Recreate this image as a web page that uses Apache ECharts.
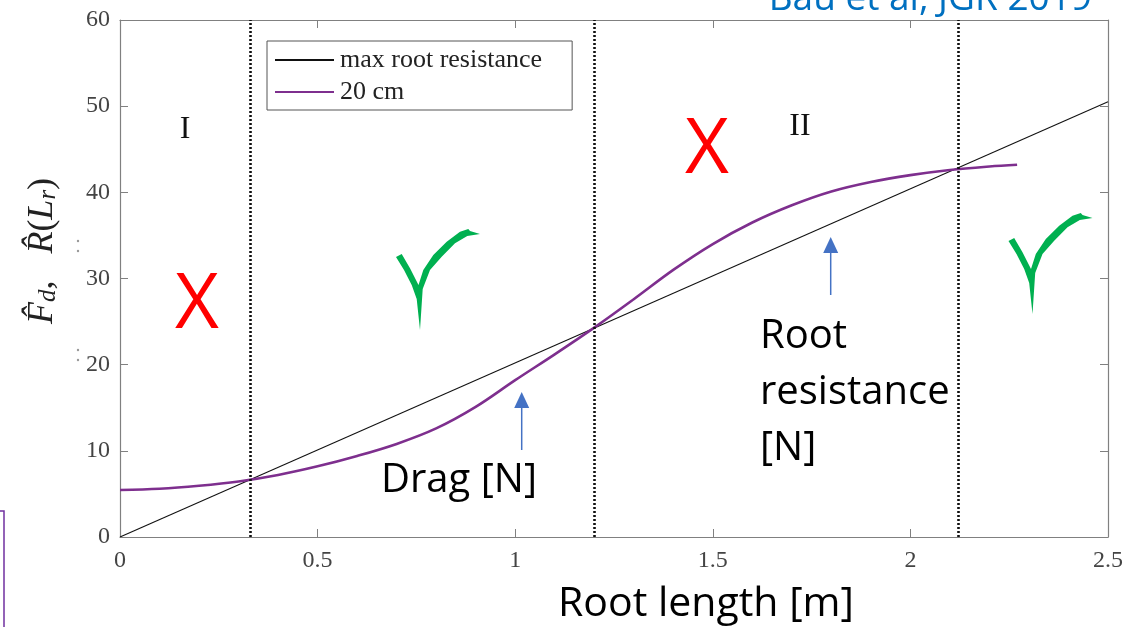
<!DOCTYPE html>
<html>
<head>
<meta charset="utf-8">
<script src="https://cdn.jsdelivr.net/npm/echarts@6/dist/echarts.min.js"></script>
<style>
  html, body { margin: 0; padding: 0; background: #fff; }
  #chart { width: 1145px; height: 627px; }
</style>
</head>
<body>
<div id="chart"></div>
<script>
// Root length [m] sampled along the drag curve
const rootLength = [0, 0.1, 0.2, 0.3, 0.4, 0.5, 0.6, 0.7, 0.8, 0.9, 1.0, 1.1, 1.2,
  1.3, 1.4, 1.5, 1.6, 1.7, 1.8, 1.9, 2.0, 2.1, 2.2, 2.27];
// Drag force for the 20 cm case [N]
const dragValues = [5.45, 5.6, 5.95, 6.45, 7.2, 8.2, 9.4, 10.8, 12.6, 15.1, 18.2, 21.2, 24.3,
  27.6, 31.0, 34.0, 36.5, 38.5, 40.1, 41.2, 42.0, 42.6, 43.0, 43.2];
// Maximum root resistance: straight line from origin
const resistanceLength = [0, 2.5];
const resistanceValues = [0, 50.5];
// Regime boundaries (where drag equals resistance)
const boundaries = [0.334, 1.203, 2.12];
// Axis ranges
const xRange = [0, 2.5, 0.5];
const yRange = [0, 60, 10];
const seriesNames = ['max root resistance', '20 cm'];

const serif = '"Liberation Serif", "DejaVu Serif", serif';
const sans = '"Open Sans", "Noto Sans", sans-serif';
const axisGray = '#808080';

function pairs(xs, ys) { return xs.map((x, i) => [x, ys[i]]); }

// hand-drawn check mark outline, relative to its own corner
const checkShape = [[16, 37], [24, 50], [31.7, 65], [36.7, 79], [40, 110], [42.7, 69], [50, 50],
  [61.7, 36.7], [75, 23.3], [87.3, 16], [100, 14], [90, 11], [88.3, 9], [80, 11.7], [66.7, 21.7],
  [53.3, 35], [43.3, 50], [38.5, 65], [30, 48.3], [21.7, 34]];
function check(ox, oy) {
  return { type: 'polygon', shape: { points: checkShape.map(p => [ox + p[0], oy + p[1]]) },
    style: { fill: '#00B050' }, z: 20 };
}
function arrow(x, yTail, yTip) {
  return [
    { type: 'line', shape: { x1: x, y1: yTail, x2: x, y2: yTip + 12 },
      style: { stroke: '#4472C4', lineWidth: 1.5 }, z: 20 },
    { type: 'polygon', shape: { points: [[x - 7.5, yTip + 16], [x + 7.5, yTip + 16], [x, yTip]] },
      style: { fill: '#4472C4' }, z: 20 }
  ];
}
function label(text, x, y, font, size, color, align) {
  return { type: 'text', x: x, y: y, z: 20,
    style: { text: text, fontFamily: font, fontSize: size, fill: color,
      align: align || 'center', verticalAlign: 'middle' } };
}

const chart = echarts.init(document.getElementById('chart'), null, { renderer: 'canvas' });

const xBase = { type: 'value', min: xRange[0], max: xRange[1], interval: xRange[2],
  splitLine: { show: false },
  axisLine: { show: true, onZero: false, lineStyle: { color: axisGray, width: 1.2 } },
  axisTick: { show: true, inside: true, length: 8, lineStyle: { color: axisGray } } };
const yBase = { type: 'value', min: yRange[0], max: yRange[1], interval: yRange[2],
  splitLine: { show: false },
  axisLine: { show: true, onZero: false, lineStyle: { color: axisGray, width: 1.2 } },
  axisTick: { show: true, inside: true, length: 8, lineStyle: { color: axisGray } } };

chart.setOption({
  animation: false,
  backgroundColor: '#fff',
  grid: { left: 120, right: 37, top: 20, bottom: 90, containLabel: false },
  xAxis: [
    Object.assign({}, xBase, { position: 'bottom',
      axisLabel: { margin: 12, fontFamily: serif, fontSize: 24, color: '#444' } }),
    Object.assign({}, xBase, { position: 'top', axisLabel: { show: false } })
  ],
  yAxis: [
    Object.assign({}, yBase, { position: 'left',
      axisLabel: { margin: 10, fontFamily: serif, fontSize: 24, color: '#444' } }),
    Object.assign({}, yBase, { position: 'right', axisLabel: { show: false } })
  ],
  legend: {
    data: seriesNames,
    orient: 'vertical',
    left: 267, top: 41,
    padding: [6, 30, 5, 7],
    itemGap: 6,
    itemWidth: 59, itemHeight: 14,
    itemStyle: { opacity: 0 },
    borderColor: '#555', borderWidth: 1,
    backgroundColor: '#fff',
    textStyle: { fontFamily: serif, fontSize: 26, color: '#222', padding: [0, 0, 0, 1] }
  },
  series: [
    {
      name: seriesNames[0], type: 'line', symbol: 'none',
      data: pairs(resistanceLength, resistanceValues),
      lineStyle: { color: '#111', width: 1.1 }, itemStyle: { color: '#111' }, z: 3
    },
    {
      name: seriesNames[1], type: 'line', symbol: 'none', smooth: 0.35,
      data: pairs(rootLength, dragValues),
      lineStyle: { color: '#7E2F8E', width: 2.6 }, itemStyle: { color: '#7E2F8E' }, z: 4
    },
    {
      name: 'boundaries', type: 'line', data: [], symbol: 'none',
      markLine: {
        silent: true, symbol: ['none', 'none'], label: { show: false },
        lineStyle: { color: '#111', type: [2, 2], width: 2.6 },
        data: boundaries.map(b => ({ xAxis: b }))
      }, z: 2
    }
  ],
  graphic: [
    // regime labels
    label('I', 185, 130, serif, 32, '#111'),
    label('II', 800, 127, serif, 32, '#111'),
    // rejected regimes
    label('X', 197, 306, sans, 76, '#FF0000'),
    label('X', 707, 151, sans, 76, '#FF0000'),
    // accepted regimes
    check(380, 220),
    check(992.5, 204),
    // pointers to the curves
    ...arrow(521.7, 450, 392),
    ...arrow(830.7, 295, 237),
    label('Drag [N]', 459, 481, sans, 40, '#000'),
    label('Root', 760, 337, sans, 40, '#000', 'left'),
    label('resistance', 760, 393, sans, 40, '#000', 'left'),
    label('[N]', 760, 449, sans, 40, '#000', 'left'),
    label('Root length [m]', 706, 604, sans, 41, '#000'),
    label('Bau et al, JGR 2019', 1092, -1, sans, 37, '#0070C0', 'right'),
    // vertical axis title
    {
      type: 'text', x: 43, y: 251, rotation: Math.PI / 2, z: 20,
      style: {
        text: '{i|F\u0302}{s|d}{p|,   }{i|R\u0302}{p|(}{i|L}{s|r}{p|)}',
        align: 'center', verticalAlign: 'middle', fill: '#222',
        rich: {
          i: { fontFamily: serif, fontStyle: 'italic', fontSize: 36, lineHeight: 36, fill: '#222' },
          p: { fontFamily: serif, fontSize: 36, lineHeight: 36, fill: '#222' },
          s: { fontFamily: serif, fontStyle: 'italic', fontSize: 25, lineHeight: 16,
               verticalAlign: 'bottom', fill: '#222' }
        }
      }
    },
    // faint marks beside the axis
    { type: 'circle', shape: { cx: 78, cy: 241, r: 1.2 }, style: { fill: '#999' }, z: 20 },
    { type: 'circle', shape: { cx: 78, cy: 251, r: 1.2 }, style: { fill: '#999' }, z: 20 },
    { type: 'circle', shape: { cx: 78, cy: 350, r: 1.2 }, style: { fill: '#999' }, z: 20 },
    { type: 'circle', shape: { cx: 78, cy: 360, r: 1.2 }, style: { fill: '#999' }, z: 20 },
    // frame edge at the lower left
    { type: 'rect', shape: { x: -20, y: 511, width: 24, height: 140 },
      style: { fill: 'none', stroke: '#7030A0', lineWidth: 1.5 }, z: 20 }
  ]
});
</script>
</body>
</html>
